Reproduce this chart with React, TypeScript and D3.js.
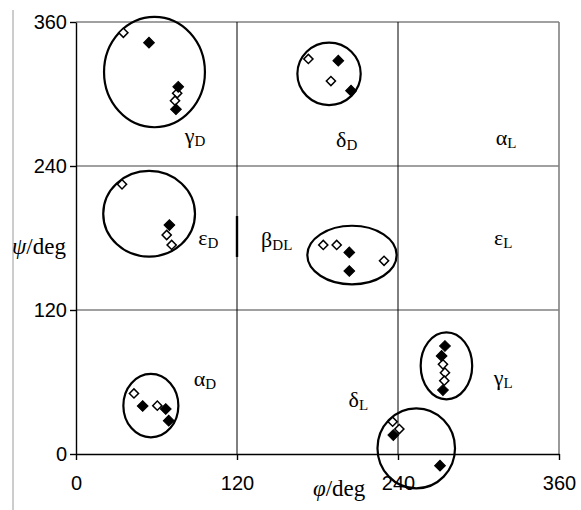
import React, { useEffect, useRef } from "react";
import * as d3 from "d3";

// dihedral angles (phi, psi) in degrees
const filledPoints: [number, number][] = [
  [54.4, 342.8], [76.2, 306], [74.5, 287.3],
  [195.5, 327.8], [205, 302.8],
  [69.6, 190.8],
  [203.7, 168], [203.7, 152.5],
  [49.7, 40], [66.9, 37.5], [69.1, 27.8],
  [275, 90], [272.5, 81.7], [273.5, 53.3],
  [236.5, 15.8], [271.3, -9.7],
];

const openPoints: [number, number][] = [
  [35.3, 351], [75.4, 300.6], [73.8, 294.4],
  [173.2, 329.2], [190, 310.8],
  [34.3, 224.7], [67.6, 182.5], [71.3, 174.2],
  [184.3, 174.2], [194.3, 174.2], [229.6, 161],
  [43.2, 50.5], [60.6, 40.3],
  [273.5, 74.7], [275, 67.8], [274.5, 61.1],
  [236, 26.9], [241, 20.8],
];

// conformer regions: center phi, center psi, radius phi, radius psi
const regions: [number, number, number, number][] = [
  [58.5, 318.3, 37.6, 46],
  [188.6, 316.8, 23.6, 26],
  [54.5, 200.2, 34.2, 35.7],
  [205.7, 165.8, 33.3, 24.4],
  [55.8, 40.3, 20.5, 26.4],
  [276.1, 73.5, 19.2, 27.9],
  [253.6, 4.7, 28.9, 33.3],
];

// region names: letter, subscript, phi, psi
const regionLabels: [string, string, number, number][] = [
  ["γ", "D", 88.7, 263],
  ["δ", "D", 201.7, 260.3],
  ["α", "L", 320.5, 262],
  ["ε", "D", 98.6, 178.3],
  ["β", "DL", 149.6, 177],
  ["ε", "L", 318.5, 178.3],
  ["α", "D", 96.1, 60.8],
  ["γ", "L", 318.5, 61.7],
  ["δ", "L", 210.4, 43.6],
];

const ticks = [0, 120, 240, 360];

export default function App() {
  const svgRef = useRef<SVGSVGElement>(null);

  useEffect(() => {
    const svg = d3.select(svgRef.current);
    svg.selectAll("*").remove();

    const x = d3.scaleLinear().domain([0, 360]).range([76, 559]);
    const y = d3.scaleLinear().domain([0, 360]).range([454, 22]);

    // stray frame line on the left
    svg
      .append("line")
      .attr("x1", 13)
      .attr("x2", 13)
      .attr("y1", 10)
      .attr("y2", 510)
      .attr("stroke", "#9a9a9a")
      .attr("stroke-width", 1);

    // horizontal grid + top border (gray)
    svg
      .selectAll(".hgrid")
      .data([120, 240, 360])
      .join("line")
      .attr("class", "hgrid")
      .attr("x1", x(0))
      .attr("x2", x(360))
      .attr("y1", (d) => y(d))
      .attr("y2", (d) => y(d))
      .attr("stroke", "#808080")
      .attr("stroke-width", 1.6);

    // vertical grid (black) + right border (gray)
    svg
      .selectAll(".vgrid")
      .data([120, 240])
      .join("line")
      .attr("class", "vgrid")
      .attr("x1", (d) => x(d))
      .attr("x2", (d) => x(d))
      .attr("y1", y(360))
      .attr("y2", y(0))
      .attr("stroke", "#000")
      .attr("stroke-width", 1);

    svg
      .append("line")
      .attr("x1", x(360))
      .attr("x2", x(360))
      .attr("y1", y(360))
      .attr("y2", y(0))
      .attr("stroke", "#808080")
      .attr("stroke-width", 1.6);

    // axes
    const yAxis = d3
      .axisLeft(y)
      .tickValues(ticks)
      .tickSize(6)
      .tickSizeOuter(0)
      .tickPadding(3);
    const gy = svg.append("g").attr("transform", `translate(${x(0)},0)`).call(yAxis);

    const xAxis = d3
      .axisBottom(x)
      .tickValues(ticks)
      .tickSize(6)
      .tickSizeOuter(0)
      .tickPadding(16);
    const gx = svg.append("g").attr("transform", `translate(0,${y(0)})`).call(xAxis);

    [gx, gy].forEach((g) => {
      g.selectAll("path").attr("stroke", "#000").attr("stroke-width", 1.4);
      g.selectAll("line").attr("stroke", "#000").attr("stroke-width", 1.4);
      g.selectAll("text")
        .attr("font-family", "Liberation Sans, Arial, sans-serif")
        .attr("font-size", 20)
        .attr("fill", "#000");
    });

    // region ellipses
    svg
      .selectAll(".region")
      .data(regions)
      .join("ellipse")
      .attr("class", "region")
      .attr("cx", (d) => x(d[0]))
      .attr("cy", (d) => y(d[1]))
      .attr("rx", (d) => x(d[2]) - x(0))
      .attr("ry", (d) => y(0) - y(d[3]))
      .attr("fill", "none")
      .attr("stroke", "#000")
      .attr("stroke-width", 2.2);

    // degenerate region at phi = 120
    svg
      .append("line")
      .attr("x1", x(120))
      .attr("x2", x(120))
      .attr("y1", y(198.3))
      .attr("y2", y(164.2))
      .attr("stroke", "#000")
      .attr("stroke-width", 2.4);

    const diamond = d3.symbol().type(d3.symbolSquare).size(42);

    svg
      .selectAll(".open")
      .data(openPoints)
      .join("path")
      .attr("class", "open")
      .attr("d", diamond)
      .attr("transform", (d) => `translate(${x(d[0])},${y(d[1])}) rotate(45)`)
      .attr("fill", "#fff")
      .attr("stroke", "#000")
      .attr("stroke-width", 1.5);

    svg
      .selectAll(".filled")
      .data(filledPoints)
      .join("path")
      .attr("class", "filled")
      .attr("d", d3.symbol().type(d3.symbolSquare).size(58))
      .attr("transform", (d) => `translate(${x(d[0])},${y(d[1])}) rotate(45)`)
      .attr("fill", "#000")
      .attr("stroke", "#000")
      .attr("stroke-width", 1);

    // region labels
    const labels = svg
      .selectAll(".rlabel")
      .data(regionLabels)
      .join("text")
      .attr("class", "rlabel")
      .attr("x", (d) => x(d[2]))
      .attr("y", (d) => y(d[3]) + 5)
      .attr("text-anchor", "middle")
      .attr("font-family", "Liberation Serif, Times New Roman, serif")
      .attr("fill", "#000");
    labels
      .append("tspan")
      .attr("font-size", 22)
      .text((d) => d[0]);
    labels
      .append("tspan")
      .attr("font-size", 15)
      .attr("dy", 3)
      .text((d) => d[1]);

    // axis titles
    const psiTitle = svg
      .append("text")
      .attr("x", 12)
      .attr("y", 254)
      .attr("font-family", "Liberation Serif, Times New Roman, serif")
      .attr("font-size", 23)
      .attr("fill", "#000");
    psiTitle.append("tspan").attr("font-style", "italic").text("ψ");
    psiTitle.append("tspan").text("/deg");

    const phiTitle = svg
      .append("text")
      .attr("x", 313)
      .attr("y", 496)
      .attr("font-family", "Liberation Serif, Times New Roman, serif")
      .attr("font-size", 23)
      .attr("fill", "#000");
    phiTitle.append("tspan").attr("font-style", "italic").text("φ");
    phiTitle.append("tspan").text("/deg");
  }, []);

  return (
    <svg
      ref={svgRef}
      width={581}
      height={510}
      style={{ position: "absolute", left: 0, top: 0, background: "#fff" }}
    />
  );
}
